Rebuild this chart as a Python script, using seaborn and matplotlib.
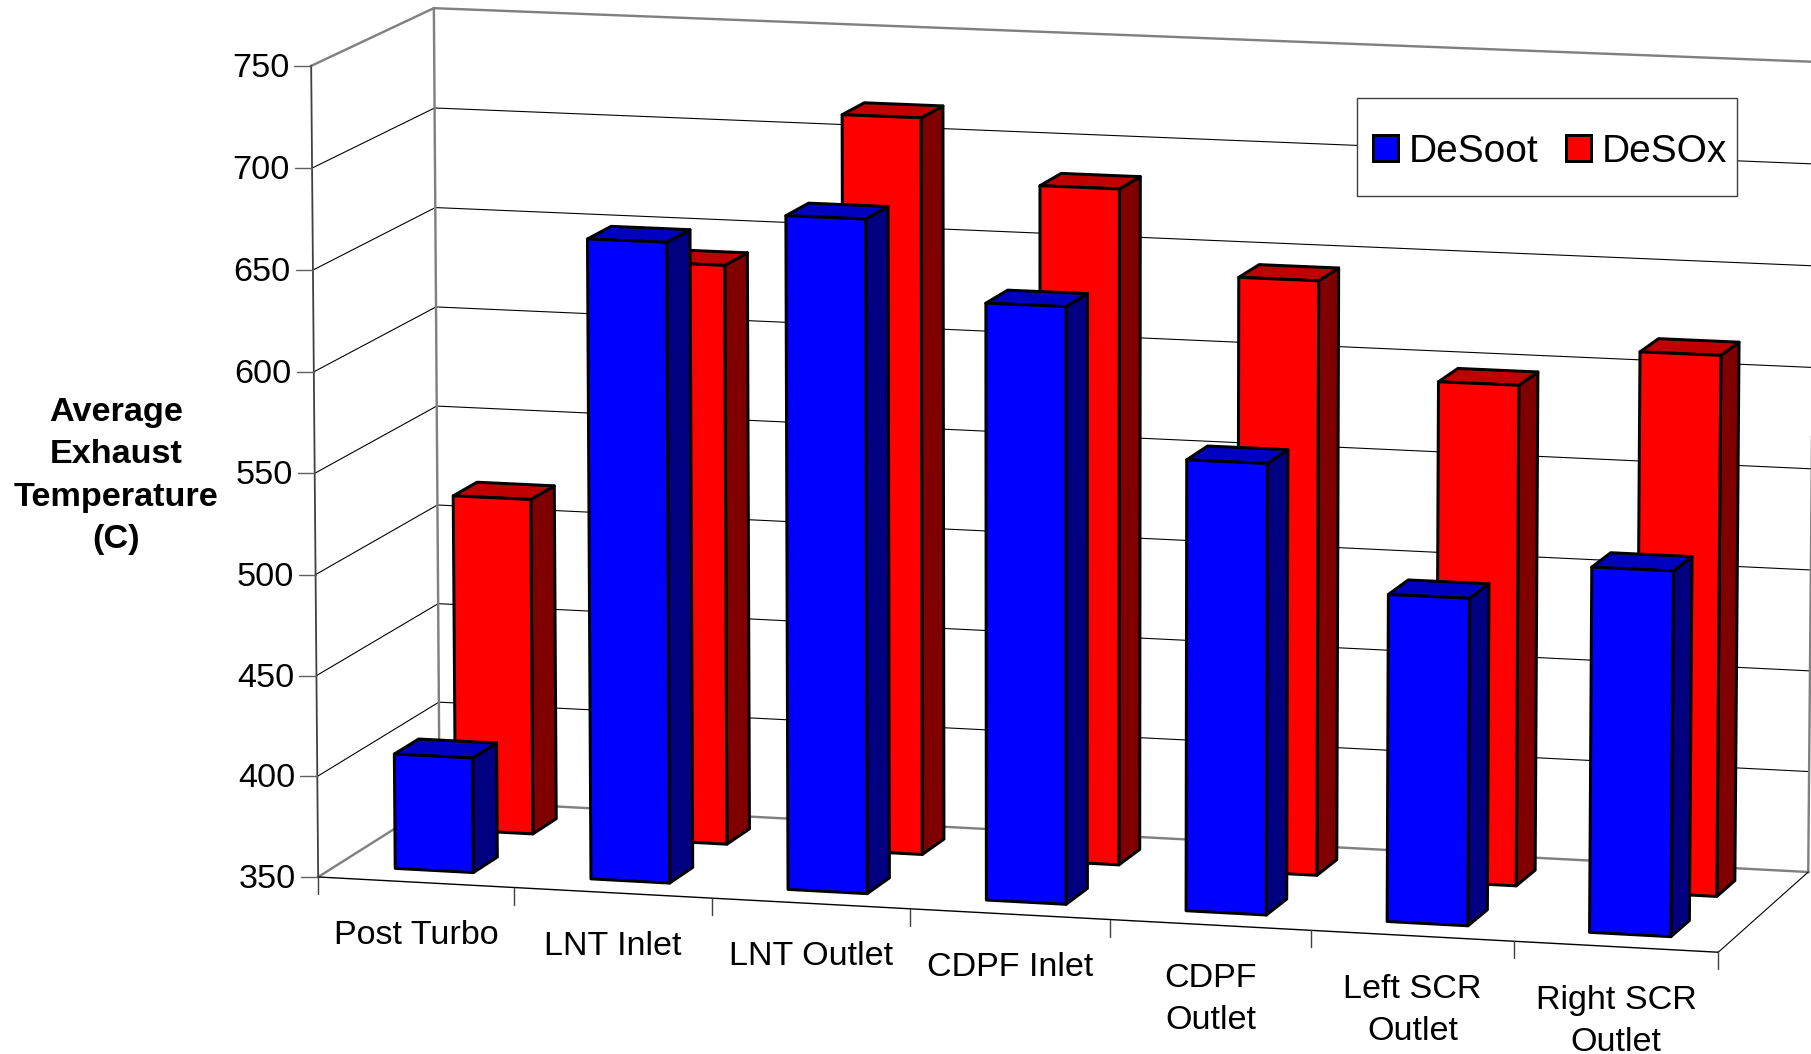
import numpy as np
import pandas as pd
import seaborn as sns
import matplotlib
matplotlib.use("Agg")
import matplotlib.pyplot as plt
from matplotlib.patches import Polygon, Rectangle
from matplotlib.transforms import Transform, IdentityTransform

# ---------- data ----------
categories = ["Post Turbo", "LNT Inlet", "LNT Outlet", "CDPF Inlet",
              "CDPF\nOutlet", "Left SCR\nOutlet", "Right SCR\nOutlet"]
desoot = [407, 666, 681.5, 643, 571, 510, 528]
desox = [518, 639, 716, 685, 644, 597, 616]
y_ticks = [350, 400, 450, 500, 550, 600, 650, 700, 750]
series_names = ["DeSoot", "DeSOx"]
y_title = "Average\nExhaust\nTemperature\n(C)"

# ---------- styling ----------
W, H = 1811, 1054
FACE = {"DeSoot": "#0000FF", "DeSOx": "#FF0000"}
TOP = {"DeSoot": "#0000C0", "DeSOx": "#C00000"}
SIDE = {"DeSoot": "#000080", "DeSOx": "#800000"}
DEPTH = {"DeSoot": (0.15, 0.35), "DeSOx": (0.65, 0.85)}
ZORD = {"DeSoot": 4, "DeSOx": 3}
GREY = "#808080"
px = 0.72  # one pixel in points at dpi 100

sns.set_theme(style="white", font="Liberation Sans")
plt.rcParams["font.family"] = ["Liberation Sans", "DejaVu Sans"]

# ---------- camera: (category edge, value, depth) -> reference pixel ----------
anchors = [
    (0, 750, 0, 311.7, 65.7), (0, 350, 0, 317.7, 876.0), (7, 350, 0, 1718.3, 952.0),
    (0, 750, 1, 433.3, 8.3), (0, 350, 1, 440.0, 800.5), (7, 750, 1, 1815.3, 61.9),
    (7, 350, 1, 1808.3, 871.7), (1, 350, 0, 514.3, 888.5), (6, 350, 0, 1514.0, 941.7),
]


def _norm(u, v, w):
    return np.asarray(u, float) / 7, (np.asarray(v, float) - 350) / 400, np.asarray(w, float)


rows = []
for u, v, w, x, y in anchors:
    a, b, c = _norm(u, v, w)
    X = [a, b, c, 1.0]
    x, y = x / 1000, y / 1000
    rows.append(X + [0, 0, 0, 0] + [-x * t for t in X])
    rows.append([0, 0, 0, 0] + X + [-y * t for t in X])
CAM = np.linalg.svd(np.array(rows))[2][-1].reshape(3, 4)


def project(u, v, w):
    """Return display coordinates (origin bottom-left)."""
    a, b, c = _norm(u, v, w)
    a, b, c = np.broadcast_arrays(a, b, c)
    X = np.stack([a, b, c, np.ones_like(a)], -1) @ CAM.T
    return X[..., 0] / X[..., 2] * 1000, H - X[..., 1] / X[..., 2] * 1000


class DepthPlane(Transform):
    """Maps the chart's (category, value) plane at depth w onto the canvas."""
    input_dims = output_dims = 2
    is_affine = False

    def __init__(self, w):
        super().__init__()
        self.w = w

    def transform_non_affine(self, xy):
        xy = np.asarray(xy, float)
        return np.column_stack(project(xy[:, 0] + 0.5, xy[:, 1], self.w))


# ---------- figure ----------
fig = plt.figure(figsize=(W / 100, H / 100), dpi=100, facecolor="white")
ax = fig.add_axes([0, 0, 1, 1])

df = pd.DataFrame({
    "Location": categories * 2,
    "Temperature": desoot + desox,
    "Mode": [series_names[0]] * 7 + [series_names[1]] * 7,
})
sns.barplot(data=df, x="Location", y="Temperature", hue="Mode", order=categories,
            hue_order=series_names, palette=FACE, saturation=1, dodge=False,
            width=0.4, edgecolor="black", linewidth=3 * px, ax=ax)
ax.set_xlim(-0.5, 6.5)
ax.set_ylim(350, 750)
ident = IdentityTransform()


def line(us, vs, ws, color="black", lw=1.1, z=1):
    x, y = project(us, vs, ws)
    ax.plot(x, y, color=color, lw=lw * px, transform=ident, clip_on=False, zorder=z,
            solid_capstyle="projecting", scalex=False, scaley=False)


# gridlines on both walls
for v in y_ticks[1:-1]:
    line([0, 0, 7], [v, v, v], [0, 1, 1])
# floor / outer frame
line([0, 7], [350, 350], [0, 0], lw=1.4, z=1.5)
line([7, 7], [350, 350], [1, 0], lw=1.1, z=1.2)
line([0, 0], [350, 350], [0, 1], color=GREY, lw=2.4, z=1.1)
line([0, 7], [350, 350], [1, 1], color=GREY, lw=2.4, z=1.1)
line([0, 0], [350, 750], [1, 1], color=GREY, lw=2.4, z=1.1)
line([7, 7], [350, 750], [1, 1], color=GREY, lw=2.4, z=1.1)
line([0, 0, 7], [750, 750, 750], [0, 1, 1], color=GREY, lw=2.4, z=1.1)
line([0, 0], [350, 750], [0, 0], color="#404040", lw=1.8, z=1.5)

# value axis ticks and labels
for v in y_ticks:
    x, y = project(0, v, 0)
    ax.plot([x - 17, x], [y, y], color="#606060", lw=1.4 * px, transform=ident,
            clip_on=False, zorder=1.5, scalex=False, scaley=False)
    ax.text(x - 22, y + 1, str(v), transform=ident, ha="right", va="center_baseline",
            fontsize=24.7, color="black")

# category ticks and labels
for i in range(8):
    x, y = project(i, 350, 0)
    ax.plot([x, x], [y, y - 17], color="#404040", lw=1.4 * px, transform=ident,
            clip_on=False, zorder=1.5, scalex=False, scaley=False)
for i, name in enumerate(categories):
    x, y = project(i + 0.5, 350, 0)
    ax.text(x, y - 38, name, transform=ident, ha="center", va="top", fontsize=24.6,
            linespacing=1.45, color="black")

ax.text(116, H - 476, y_title, transform=ident, ha="center", va="center", fontsize=24.7,
        fontweight="bold", linespacing=1.47, color="black")

# bars: front faces are seaborn's rectangles, sides and tops follow from the same bars
for name, container in zip(series_names, ax.containers):
    w0, w1 = DEPTH[name]
    for rect in container:
        value = rect.get_height()
        rect.set_y(350)
        rect.set_height(value - 350)
        rect.set_transform(DepthPlane(w0))
        rect.set_clip_on(False)
        rect.set_zorder(ZORD[name] + 0.2)
        rect.set_joinstyle("round")
        a, b = rect.get_x() + 0.5, rect.get_x() + rect.get_width() + 0.5
        side = np.column_stack(project([b, b, b, b], [350, value, value, 350], [w0, w0, w1, w1]))
        top = np.column_stack(project([a, b, b, a], [value] * 4, [w0, w0, w1, w1]))
        for pts, col in ((side, SIDE[name]), (top, TOP[name])):
            ax.add_patch(Polygon(pts, closed=True, facecolor=col, edgecolor="black",
                                 lw=3 * px, transform=ident, clip_on=False,
                                 zorder=ZORD[name], joinstyle="round"))

# legend
ax.add_patch(Rectangle((1356.7, H - 195.7), 380.6, 98, facecolor="white", edgecolor="#404040",
                       lw=1.4 * px, transform=ident, clip_on=False, zorder=4.8))
sns.move_legend(ax, "center left", bbox_to_anchor=(1373 / W, 1 - 151.5 / H), ncol=2, title=None,
                frameon=False, fontsize=28, labelcolor="black", borderpad=0, borderaxespad=0,
                handlelength=0.64, handleheight=0.64, handletextpad=0.27, columnspacing=0.72)
ax.get_legend().set_zorder(5)
ax.set_axis_off()

fig.savefig("out.png", dpi=100, facecolor="white")
